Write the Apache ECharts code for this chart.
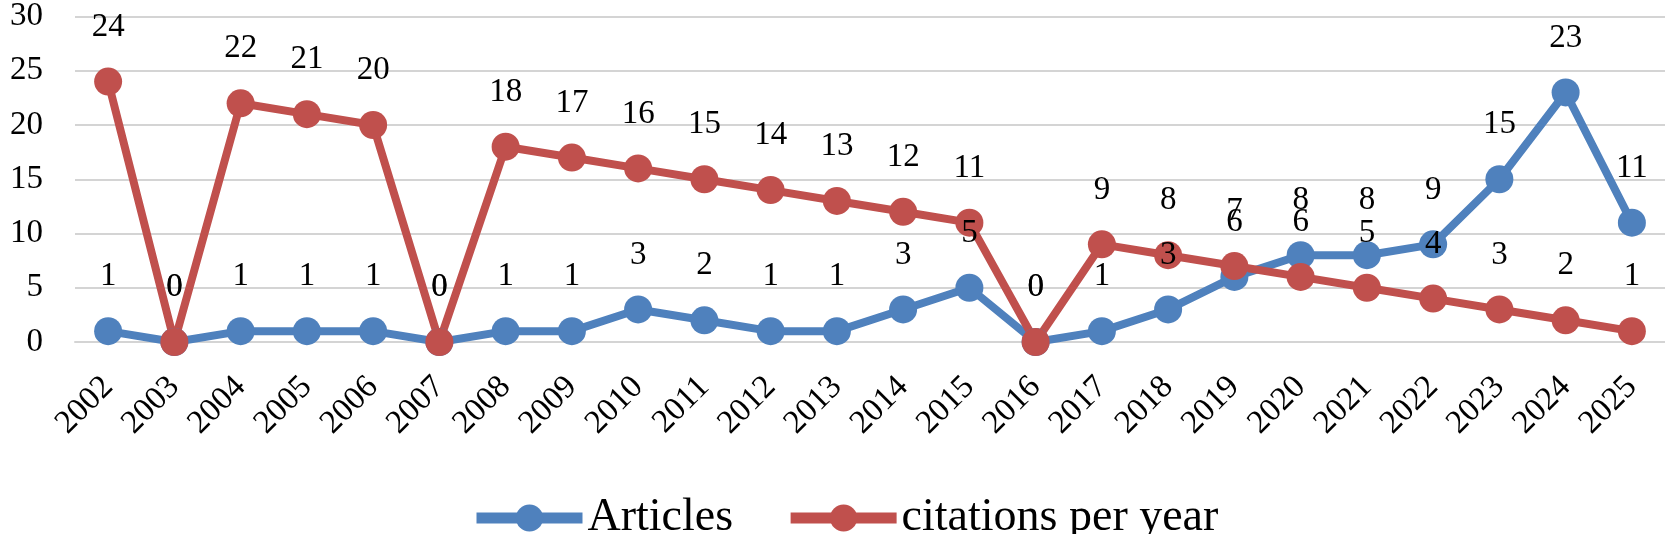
<!DOCTYPE html>
<html>
<head>
<meta charset="utf-8">
<script src="https://cdn.jsdelivr.net/npm/echarts@6/dist/echarts.min.js"></script>
<style>
html,body{margin:0;padding:0;background:#fff;}
#chart{width:1665px;height:534px;}
</style>
</head>
<body>
<div id="chart"></div>
<script>
const years = ['2002','2003','2004','2005','2006','2007','2008','2009','2010','2011','2012','2013','2014','2015','2016','2017','2018','2019','2020','2021','2022','2023','2024','2025'];
const articles = [1,0,1,1,1,0,1,1,3,2,1,1,3,5,0,1,3,6,8,8,9,15,23,11];
const citationsPerYear = [24,0,22,21,20,0,18,17,16,15,14,13,12,11,0,9,8,7,6,5,4,3,2,1];
const seriesNames = ['Articles','citations per year'];
const yTicks = {min:0, max:30, interval:5};

const FONT = '"Liberation Serif", "Times New Roman", serif';
const chart = echarts.init(document.getElementById('chart'));
const labelStyle = {show:true, position:'top', distance:24, fontSize:33, color:'#000', fontFamily:FONT};
chart.setOption({
  animation:false,
  textStyle:{fontFamily:FONT},
  grid:{left:75, right:0, top:14, bottom:192, containLabel:false},
  legend:{
    data:seriesNames,
    left:471, top:495, padding:0,
    itemWidth:106, itemHeight:34, itemGap:52,
    lineStyle:{width:11},
    textStyle:{fontSize:46, color:'#000', fontFamily:FONT}
  },
  xAxis:{
    type:'category', data:years, boundaryGap:true,
    axisLine:{show:true, lineStyle:{color:'#d4d4d4', width:2}},
    axisTick:{show:false},
    axisLabel:{rotate:45, fontSize:33, color:'#000', margin:40, fontFamily:FONT, interval:0}
  },
  yAxis:{
    type:'value', min:yTicks.min, max:yTicks.max, interval:yTicks.interval,
    axisLine:{show:false}, axisTick:{show:false},
    axisLabel:{fontSize:33, color:'#000', margin:32, fontFamily:FONT},
    splitLine:{lineStyle:{color:'#d4d4d4', width:2}}
  },
  series:[
    {name:seriesNames[0], type:'line', data:articles, symbol:'circle', symbolSize:28,
     lineStyle:{width:8, color:'#4F81BD'}, itemStyle:{color:'#4F81BD'}, label:labelStyle},
    {name:seriesNames[1], type:'line', data:citationsPerYear, symbol:'circle', symbolSize:28,
     lineStyle:{width:8, color:'#C0504D'}, itemStyle:{color:'#C0504D'}, label:labelStyle}
  ]
});
</script>
</body>
</html>
